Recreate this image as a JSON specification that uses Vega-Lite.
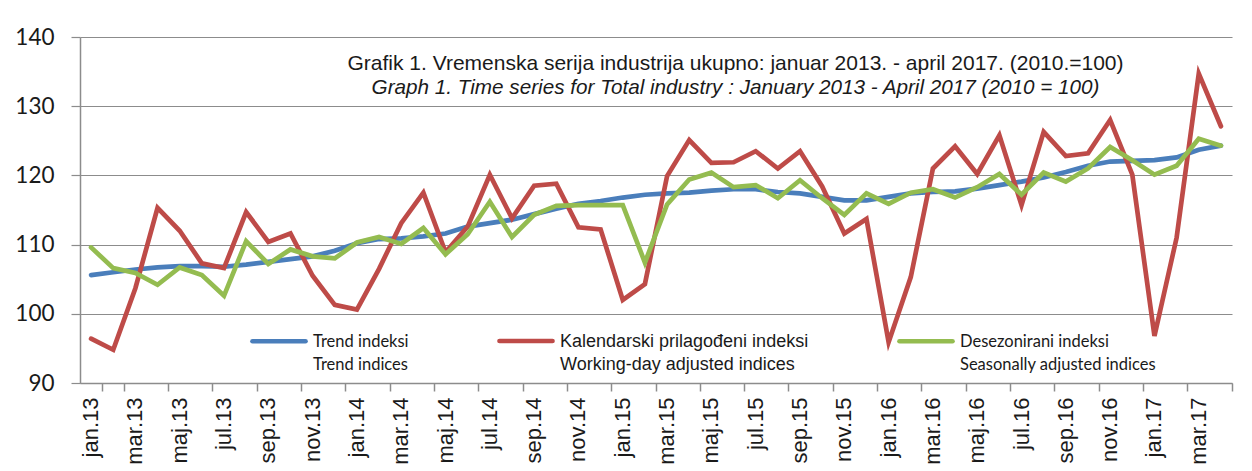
{
  "$schema": "https://vega.github.io/schema/vega-lite/v6.json",
  "width": 1152,
  "height": 346,
  "autosize": {"type": "none"},
  "padding": {"left": 80, "top": 37, "right": 20, "bottom": 88},
  "background": "white",
  "config": {"view": {"stroke": null}},
  "title": {
    "text": "Grafik 1. Vremenska serija industrija ukupno: januar 2013. - april 2017. (2010.=100)",
    "subtitle": "Graph 1. Time series for Total industry : January 2013 - April 2017 (2010 = 100)",
    "anchor": "middle",
    "frame": "group",
    "dx": 79.5,
    "offset": -72,
    "font": "Liberation Sans",
    "fontSize": 21,
    "fontWeight": "normal",
    "color": "#1a1a1a",
    "subtitleFont": "Liberation Sans",
    "subtitleFontSize": 20.7,
    "subtitleFontStyle": "italic",
    "subtitleColor": "#1a1a1a",
    "subtitlePadding": 4
  },
  "data": {
    "values": [
      {"m": "jan.13", "t": 105.6, "k": 96.4, "d": 109.6},
      {"m": "feb.13", "t": 106.0, "k": 94.8, "d": 106.6},
      {"m": "mar.13", "t": 106.4, "k": 103.7, "d": 105.9},
      {"m": "apr.13", "t": 106.7, "k": 115.3, "d": 104.2},
      {"m": "maj.13", "t": 106.9, "k": 112.0, "d": 106.7},
      {"m": "jun.13", "t": 106.9, "k": 107.3, "d": 105.6},
      {"m": "jul.13", "t": 106.8, "k": 106.6, "d": 102.6},
      {"m": "avg.13", "t": 107.1, "k": 114.7, "d": 110.5},
      {"m": "sep.13", "t": 107.5, "k": 110.4, "d": 107.2},
      {"m": "okt.13", "t": 107.9, "k": 111.6, "d": 109.3},
      {"m": "nov.13", "t": 108.3, "k": 105.5, "d": 108.3},
      {"m": "dec.13", "t": 109.1, "k": 101.3, "d": 108.0},
      {"m": "jan.14", "t": 110.2, "k": 100.6, "d": 110.3},
      {"m": "feb.14", "t": 110.8, "k": 106.5, "d": 111.1},
      {"m": "mar.14", "t": 110.9, "k": 113.1, "d": 110.1},
      {"m": "apr.14", "t": 111.2, "k": 117.5, "d": 112.4},
      {"m": "maj.14", "t": 111.6, "k": 108.9, "d": 108.6},
      {"m": "jun.14", "t": 112.6, "k": 112.6, "d": 111.5},
      {"m": "jul.14", "t": 113.1, "k": 120.1, "d": 116.2},
      {"m": "avg.14", "t": 113.6, "k": 113.8, "d": 111.1},
      {"m": "sep.14", "t": 114.4, "k": 118.5, "d": 114.3},
      {"m": "okt.14", "t": 115.2, "k": 118.8, "d": 115.6},
      {"m": "nov.14", "t": 115.9, "k": 112.5, "d": 115.7},
      {"m": "dec.14", "t": 116.3, "k": 112.2, "d": 115.7},
      {"m": "jan.15", "t": 116.8, "k": 102.0, "d": 115.7},
      {"m": "feb.15", "t": 117.2, "k": 104.3, "d": 107.4},
      {"m": "mar.15", "t": 117.4, "k": 119.9, "d": 115.8},
      {"m": "apr.15", "t": 117.5, "k": 125.1, "d": 119.4},
      {"m": "maj.15", "t": 117.8, "k": 121.8, "d": 120.4},
      {"m": "jun.15", "t": 118.0, "k": 121.9, "d": 118.3},
      {"m": "jul.15", "t": 118.0, "k": 123.5, "d": 118.6},
      {"m": "avg.15", "t": 117.6, "k": 121.0, "d": 116.7},
      {"m": "sep.15", "t": 117.4, "k": 123.5, "d": 119.3},
      {"m": "okt.15", "t": 116.9, "k": 118.4, "d": 116.7},
      {"m": "nov.15", "t": 116.4, "k": 111.6, "d": 114.3},
      {"m": "dec.15", "t": 116.4, "k": 113.7, "d": 117.4},
      {"m": "jan.16", "t": 116.9, "k": 95.9, "d": 115.9},
      {"m": "feb.16", "t": 117.4, "k": 105.3, "d": 117.5},
      {"m": "mar.16", "t": 117.6, "k": 121.0, "d": 118.0},
      {"m": "apr.16", "t": 117.7, "k": 124.2, "d": 116.8},
      {"m": "maj.16", "t": 118.1, "k": 120.2, "d": 118.3},
      {"m": "jun.16", "t": 118.6, "k": 125.8, "d": 120.2},
      {"m": "jul.16", "t": 119.1, "k": 115.7, "d": 117.2},
      {"m": "avg.16", "t": 119.7, "k": 126.3, "d": 120.4},
      {"m": "sep.16", "t": 120.5, "k": 122.8, "d": 119.1},
      {"m": "okt.16", "t": 121.4, "k": 123.2, "d": 121.0},
      {"m": "nov.16", "t": 122.0, "k": 128.0, "d": 124.1},
      {"m": "dec.16", "t": 122.1, "k": 120.1, "d": 122.2},
      {"m": "jan.17", "t": 122.2, "k": 96.8, "d": 120.1},
      {"m": "feb.17", "t": 122.6, "k": 111.0, "d": 121.4},
      {"m": "mar.17", "t": 123.7, "k": 134.7, "d": 125.3},
      {"m": "apr.17", "t": 124.3, "k": 127.1, "d": 124.3}
    ]
  },
  "transform": [{"fold": ["t", "k", "d"], "as": ["s", "v"]}],
  "layer": [
    {
      "mark": {"type": "line", "strokeWidth": 4.7, "strokeCap": "round"},
      "encoding": {
        "x": {
          "field": "m",
          "type": "ordinal",
          "sort": null,
          "scale": {"type": "band", "paddingInner": 0, "paddingOuter": 0},
          "axis": {
            "orient": "bottom",
            "title": null,
            "values": ["jan.13", "mar.13", "maj.13", "jul.13", "sep.13", "nov.13", "jan.14", "mar.14", "maj.14", "jul.14", "sep.14", "nov.14", "jan.15", "mar.15", "maj.15", "jul.15", "sep.15", "nov.15", "jan.16", "mar.16", "maj.16", "jul.16", "sep.16", "nov.16", "jan.17", "mar.17"],
            "ticks": false,
            "grid": false,
            "domain": true,
            "domainColor": "#8c8c8c",
            "domainWidth": 1.5,
            "labelAngle": -90,
            "labelFont": "Liberation Sans",
            "labelFontSize": 22,
            "labelColor": "#1a1a1a",
            "labelPadding": 14
          }
        },
        "y": {
          "field": "v",
          "type": "quantitative",
          "scale": {"domain": [90, 140], "nice": false, "zero": false},
          "axis": {
            "title": null,
            "values": [90, 100, 110, 120, 130, 140],
            "grid": true,
            "gridColor": "#8c8c8c",
            "gridWidth": 1.2,
            "domain": true,
            "domainColor": "#8c8c8c",
            "domainWidth": 1.5,
            "tickSize": 9,
            "tickColor": "#8c8c8c",
            "tickWidth": 1.2,
            "labelFont": "Lato",
            "labelFontSize": 22.5,
            "labelColor": "#1a1a1a",
            "labelPadding": 17
          }
        },
        "color": {
          "field": "s",
          "type": "nominal",
          "scale": {"domain": ["t", "k", "d"], "range": ["#4A7EBB", "#BE4B48", "#94BC50"]},
          "legend": {
            "title": null,
            "orient": "none",
            "legendX": 170,
            "legendY": 275,
            "direction": "horizontal",
            "symbolType": "stroke",
            "symbolSize": 2809,
            "symbolStrokeWidth": 4.7,
            "labelOffset": 5,
            "columnPadding": 81,
            "labelLimit": 500,
            "labelExpr": "datum.label == 't' ? ['Trend indeksi', 'Trend indices'] : datum.label == 'k' ? ['Kalendarski prilagođeni indeksi', 'Working-day adjusted indices'] : ['Desezonirani indeksi', 'Seasonally adjusted indices']",
            "labelFont": "Lato",
            "labelFontSize": 16,
            "labelColor": "#1a1a1a",
            "labelBaseline": "alphabetic",
            "encode": {
              "symbols": {
                "update": {
                  "strokeCap": {"value": "round"}
                }
              },
              "labels": {
                "update": {
                  "font": {"signal": "datum.value == 'k' ? 'Liberation Sans' : 'Lato'"},
                  "fontSize": {"signal": "datum.value == 'k' ? 18 : 16.5"},
                  "lineHeight": {"value": 23},
                  "dy": {"value": 6}
                }
              }
            }
          }
        }
      }
    },
    {
      "mark": {"type": "tick", "opacity": 0},
      "encoding": {
        "x": {
          "field": "m",
          "type": "ordinal",
          "sort": null,
          "scale": {"type": "band", "paddingInner": 0, "paddingOuter": 0},
          "axis": {
            "orient": "bottom",
            "title": null,
            "values": ["feb.13", "apr.13", "jun.13", "avg.13", "okt.13", "dec.13", "feb.14", "apr.14", "jun.14", "avg.14", "okt.14", "dec.14", "feb.15", "apr.15", "jun.15", "avg.15", "okt.15", "dec.15", "feb.16", "apr.16", "jun.16", "avg.16", "okt.16", "dec.16", "feb.17", "apr.17"],
            "bandPosition": 1,
            "tickExtra": true,
            "labels": false,
            "domain": false,
            "grid": false,
            "ticks": true,
            "tickSize": 8,
            "tickColor": "#8c8c8c",
            "tickWidth": 1.5
          }
        }
      }
    }
  ],
  "resolve": {"axis": {"x": "independent"}}
}
